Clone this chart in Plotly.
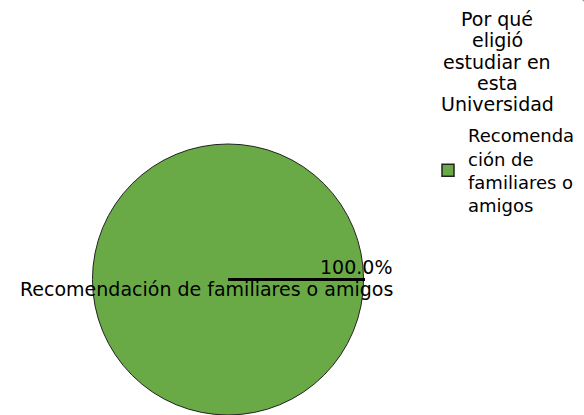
import plotly.graph_objects as go

labels = ["Recomendación de familiares o amigos"]
legend_names = ["Recomenda<br>ción de<br>familiares o<br>amigos"]
values = [100]
colors = ["#6aaa46"]
title_lines = ["Por qué", "eligió", "estudiar en", "esta", "Universidad"]

W, H = 584, 415
FONT = "DejaVu Sans"
FS = 19
FS_LEG = 18

dom_x = [91 / W, 365 / W]
dom_y = [0.0, 271 / H]

fig = go.Figure()
fig.add_trace(go.Pie(
    labels=labels, values=values,
    marker=dict(colors=colors, line=dict(color="#222222", width=1)),
    textinfo="none", hoverinfo="none", sort=False,
    domain=dict(x=dom_x, y=dom_y), showlegend=False,
))
# legend entry (same label/colour)
for name, c in zip(legend_names, colors):
    fig.add_trace(go.Pie(labels=[name], values=[1], marker=dict(colors=[c], line=dict(color="#222222", width=1.5)),
                         textinfo="none", hoverinfo="none", domain=dict(x=[0.999, 1], y=[0.999, 1]),
                         showlegend=True))

# radial boundary line at the start of the slice (center -> right edge)
cx = (dom_x[0] + dom_x[1]) / 2
cy = (dom_y[0] + dom_y[1]) / 2
fig.add_shape(type="line", xref="paper", yref="paper", x0=cx, x1=dom_x[1], y0=cy, y1=cy,
              line=dict(color="black", width=3))

total = sum(values)
for lab, v in zip(labels, values):
    fig.add_annotation(xref="paper", yref="paper", x=394 / W, y=(H - 267) / H, xanchor="right", yanchor="middle",
                       text=f"{v / total * 100:.1f}%", showarrow=False, font=dict(family=FONT, size=FS, color="black"))
    fig.add_annotation(xref="paper", yref="paper", x=395 / W, y=(H - 289) / H, xanchor="right", yanchor="middle",
                       text=lab, showarrow=False, font=dict(family=FONT, size=FS, color="black"))

for i, t in enumerate(title_lines):
    fig.add_annotation(xref="paper", yref="paper", x=497 / W, y=(H - (19 + i * 21.3)) / H, xanchor="center",
                       yanchor="middle", text=t, showarrow=False, font=dict(family=FONT, size=FS, color="black"))

fig.update_layout(
    width=W, height=H, margin=dict(l=0, r=0, t=0, b=0),
    paper_bgcolor="white", plot_bgcolor="white",
    font=dict(family=FONT, size=FS, color="black"),
    legend=dict(x=(466 - 38) / W, xanchor="left", y=(H - 117) / H, yanchor="top",
                bgcolor="rgba(0,0,0,0)", font=dict(family=FONT, size=FS_LEG, color="black")),
)
fig.write_html("out.html", config={"displayModeBar": False},
               post_script="document.body.style.margin='0';")
